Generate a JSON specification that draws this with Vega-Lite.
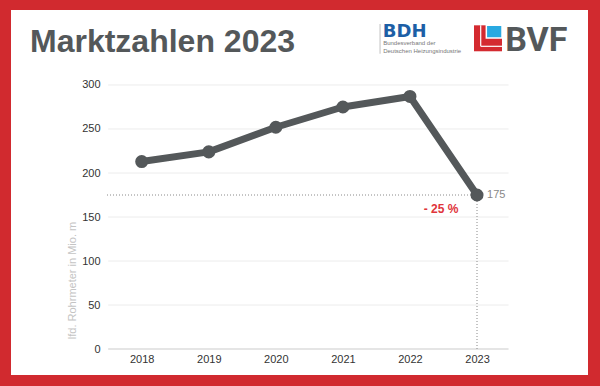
{
  "$schema": "https://vega.github.io/schema/vega-lite/v6.json",
  "width": 577,
  "height": 365,
  "autosize": {"type": "none"},
  "padding": {"left": 11, "top": 10, "right": 12, "bottom": 11},
  "background": "#d12a2f",
  "config": {"view": {"fill": "#ffffff", "stroke": null}, "font": "Liberation Sans"},
  "title": {
    "text": "Marktzahlen 2023",
    "anchor": "start",
    "frame": "group",
    "orient": "top",
    "offset": -49,
    "dx": 19,
    "fontSize": 32,
    "font": "Liberation Sans",
    "fontWeight": "bold",
    "color": "#54585a"
  },
  "datasets": {
    "sales": [
      {"year": 2018, "value": 213},
      {"year": 2019, "value": 224},
      {"year": 2020, "value": 252},
      {"year": 2021, "value": 275},
      {"year": 2022, "value": 287},
      {"year": 2023, "value": 175}
    ],
    "grid": [
      {"tick": 50}, {"tick": 100}, {"tick": 150}, {"tick": 200}, {"tick": 250}, {"tick": 300}
    ],
    "base": [{"tick": 0}]
  },
  "layer": [
    {
      "data": {"name": "grid"},
      "mark": {"type": "rule", "color": "#ececec", "strokeWidth": 1},
      "encoding": {
        "x": {"datum": 2017.5, "type": "quantitative"},
        "x2": {"datum": 2023.47},
        "y": {"field": "tick", "type": "quantitative"}
      }
    },
    {
      "data": {"name": "base"},
      "mark": {"type": "rule", "color": "#dcdcdc", "strokeWidth": 1.6},
      "encoding": {
        "x": {"datum": 2017.5, "type": "quantitative"},
        "x2": {"datum": 2023.47},
        "y": {"field": "tick", "type": "quantitative"}
      }
    },
    {
      "data": {"name": "sales"},
      "transform": [{"filter": "datum.year == 2023"}],
      "mark": {"type": "rule", "color": "#8a8a8a", "strokeWidth": 1, "strokeDash": [1, 2]},
      "encoding": {
        "x": {"field": "year", "type": "quantitative"},
        "x2": {"datum": 2017.48},
        "y": {"field": "value", "type": "quantitative"}
      }
    },
    {
      "data": {"name": "sales"},
      "transform": [{"filter": "datum.year == 2023"}],
      "mark": {"type": "rule", "color": "#8a8a8a", "strokeWidth": 1, "strokeDash": [1, 2]},
      "encoding": {
        "x": {"field": "year", "type": "quantitative"},
        "y": {"field": "value", "type": "quantitative"},
        "y2": {"datum": 0}
      }
    },
    {
      "data": {"name": "sales"},
      "mark": {"type": "line", "color": "#54585a", "strokeWidth": 7, "strokeJoin": "round", "strokeCap": "round"},
      "encoding": {
        "x": {
          "field": "year",
          "type": "quantitative",
          "scale": {"domain": [2016.051, 2024.655], "nice": false, "zero": false},
          "axis": {
            "values": [2018, 2019, 2020, 2021, 2022, 2023],
            "format": "d",
            "domain": false,
            "ticks": false,
            "grid": false,
            "labelFont": "Liberation Sans",
            "labelFontSize": 11,
            "labelColor": "#333333",
            "labelPadding": 4,
            "labelFlush": false,
            "labelOverlap": false,
            "offset": -26,
            "title": null
          }
        },
        "y": {
          "field": "value",
          "type": "quantitative",
          "scale": {"domain": [-29.5, 385.2], "nice": false, "zero": false},
          "axis": {
            "values": [0, 50, 100, 150, 200, 250, 300],
            "domain": false,
            "ticks": false,
            "grid": false,
            "labelFont": "Liberation Sans",
            "labelFontSize": 11,
            "labelColor": "#333333",
            "labelPadding": 4,
            "labelFlush": false,
            "labelOverlap": false,
            "offset": -93,
            "title": "lfd. Rohrmeter in Mio. m",
            "titleFont": "Liberation Sans",
            "titleColor": "#c4c4c4",
            "titleFontSize": 11,
            "titleFontWeight": "normal",
            "titleY": 270,
            "titlePadding": 4
          }
        }
      }
    },
    {
      "data": {"name": "sales"},
      "mark": {"type": "point", "filled": true, "size": 170, "color": "#54585a", "opacity": 1},
      "encoding": {
        "x": {"field": "year", "type": "quantitative"},
        "y": {"field": "value", "type": "quantitative"}
      }
    },
    {
      "data": {"name": "sales"},
      "transform": [{"filter": "datum.year == 2023"}],
      "mark": {"type": "text", "align": "left", "baseline": "middle", "dx": 10, "fontSize": 11, "color": "#888888"},
      "encoding": {
        "x": {"field": "year", "type": "quantitative"},
        "y": {"field": "value", "type": "quantitative"},
        "text": {"field": "value", "type": "quantitative"}
      }
    },
    {
      "data": {"name": "sales"},
      "transform": [{"filter": "datum.year == 2023"}],
      "mark": {"type": "text", "text": "- 25 %", "align": "center", "baseline": "middle", "dx": -36, "dy": 14, "fontSize": 12, "fontWeight": "bold", "color": "#e0353b"},
      "encoding": {
        "x": {"field": "year", "type": "quantitative"},
        "y": {"field": "value", "type": "quantitative"}
      }
    },
    {
      "data": {"values": [{}]},
      "mark": {"type": "rule", "color": "#c0c0c0", "strokeWidth": 1},
      "encoding": {
        "x": {"datum": 2021.554, "type": "quantitative"},
        "y": {"datum": 369.3, "type": "quantitative"},
        "y2": {"datum": 335.5}
      }
    },
    {
      "data": {"values": [{}]},
      "mark": {"type": "text", "text": "BDH", "font": "DejaVu Sans", "fontWeight": "bold", "fontSize": 18, "color": "#1d5fa6", "align": "left", "baseline": "alphabetic"},
      "encoding": {
        "x": {"datum": 2021.594, "type": "quantitative"},
        "y": {"datum": 354.2, "type": "quantitative"}
      }
    },
    {
      "data": {"values": [{}]},
      "mark": {"type": "text", "text": "Bundesverband der", "fontSize": 6, "color": "#777777", "align": "left", "baseline": "alphabetic"},
      "encoding": {
        "x": {"datum": 2021.6, "type": "quantitative"},
        "y": {"datum": 344.9, "type": "quantitative"}
      }
    },
    {
      "data": {"values": [{}]},
      "mark": {"type": "text", "text": "Deutschen Heizungsindustrie", "fontSize": 6, "color": "#777777", "align": "left", "baseline": "alphabetic"},
      "encoding": {
        "x": {"datum": 2021.6, "type": "quantitative"},
        "y": {"datum": 335.8, "type": "quantitative"}
      }
    },
    {
      "data": {"values": [{}]},
      "mark": {"type": "rect", "color": "#d42a30"},
      "encoding": {
        "x": {"datum": 2022.955, "type": "quantitative"},
        "x2": {"datum": 2023.373},
        "y": {"datum": 367.8, "type": "quantitative"},
        "y2": {"datum": 338.3}
      }
    },
    {
      "data": {"values": [{}]},
      "mark": {"type": "rect", "color": "#29a9e1", "stroke": "#ffffff", "strokeWidth": 1.5},
      "encoding": {
        "x": {"datum": 2023.139, "type": "quantitative"},
        "x2": {"datum": 2023.373},
        "y": {"datum": 367.8, "type": "quantitative"},
        "y2": {"datum": 353.4}
      }
    },
    {
      "data": {"values": [{}]},
      "mark": {"type": "rule", "color": "#ffffff", "strokeWidth": 1.2},
      "encoding": {
        "x": {"datum": 2023.055, "type": "quantitative"},
        "y": {"datum": 367.8, "type": "quantitative"},
        "y2": {"datum": 343.95}
      }
    },
    {
      "data": {"values": [{}]},
      "mark": {"type": "rule", "color": "#ffffff", "strokeWidth": 1.2},
      "encoding": {
        "x": {"datum": 2023.055, "type": "quantitative"},
        "x2": {"datum": 2023.373},
        "y": {"datum": 343.95, "type": "quantitative"}
      }
    },
    {
      "data": {"values": [{}]},
      "mark": {"type": "text", "text": "BVF", "font": "Roboto", "fontWeight": "bold", "fontSize": 34, "color": "#54585a", "align": "left", "baseline": "alphabetic"},
      "encoding": {
        "x": {"datum": 2023.422, "type": "quantitative"},
        "y": {"datum": 338.3, "type": "quantitative"}
      }
    }
  ]
}
